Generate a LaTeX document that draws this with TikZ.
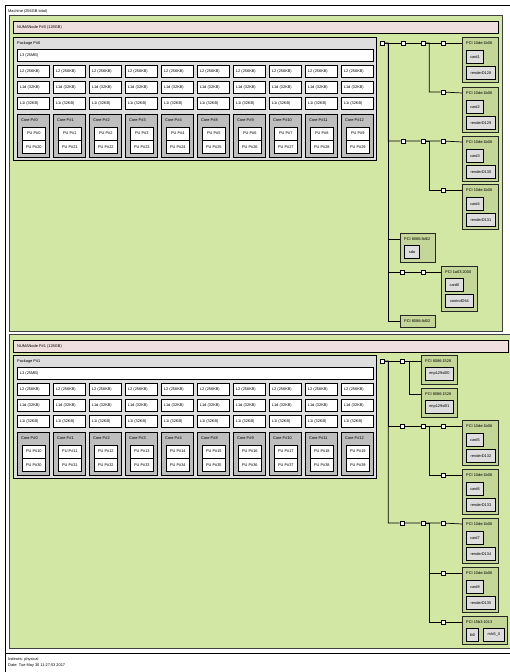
\documentclass[tikz,border=0pt]{standalone}
\usepackage{fontspec}
\setmainfont{Liberation Sans}
\usetikzlibrary{positioning}
\definecolor{grp}{RGB}{210,231,164}
\definecolor{numa}{RGB}{239,223,222}
\definecolor{pkg}{RGB}{222,222,222}
\definecolor{core}{RGB}{190,190,190}
\definecolor{pcid}{RGB}{196,214,152}
\definecolor{osd}{RGB}{222,222,222}

\begin{document}
\begin{tikzpicture}[x=1pt,y=-1pt,font=\fontsize{3.9}{4.5}\selectfont,
  box/.style={draw,line width=0.7pt,anchor=north west,inner sep=0pt},
  grpbox/.style={box,fill=grp,draw=black!75},
  numabar/.style={box,fill=numa,minimum height=12pt},
  pkgbox/.style={box,fill=pkg},
  corebox/.style={box,fill=core,minimum width=32pt,minimum height=43pt},
  cache/.style={box,fill=white,minimum height=12pt,inner xsep=2.5pt,text width=27pt,align=left},
  pu/.style={box,fill=white,minimum width=23pt,minimum height=12.5pt,align=center},
  pcibox/.style={box,fill=pcid,draw=black!85},
  osdev/.style={box,fill=osd,line width=0.9pt,minimum height=12.5pt,align=center},
  brg/.style={draw,fill=white,line width=0.6pt,minimum size=4pt,inner sep=0pt},
  lbl/.style={anchor=west,inner sep=0pt},
  link/.style={line width=0.7pt}]
  \useasboundingbox (0,0) rectangle (510,672);
  \clip (0,0) rectangle (510,672);

  % ---------- machine ----------
  \node[box,fill=white,minimum width=515pt,minimum height=648pt] (machine) at (5,5) {};
  \draw[line width=0.7pt] (machine.south west) -- (5,672);
  \node[lbl] (machine-t) at (8,11) {Machine (256GB total)};

  % ---------- numa nodes ----------
  \node[grpbox,minimum width=493pt,minimum height=316pt] (grp0) at (9,15) {};
  \node[numabar,minimum width=485pt] (numa0) at (13,21) {};
  \node[lbl] (numa0-t) at (17,27) {NUMANode P\#0 (128GB)};
  \node[grpbox,minimum width=505pt,minimum height=314pt] (grp1) at (9,334) {};
  \node[numabar,minimum width=495pt] (numa1) at (13,340) {};
  \node[lbl] (numa1-t) at (17,346) {NUMANode P\#1 (128GB)};

  % ---------- packages, caches, cores ----------
  \foreach \n/\dy/\pa/\pb in {0/0/0/20,1/318/10/30}{
    \node[pkgbox,minimum width=363pt,minimum height=123pt] (pkg\n) at (13,37+\dy) {};
    \node[lbl] (pkg\n-t) at (17,43+\dy) {Package P\#\n};
    \node[cache,text width=351pt] (l3-\n) at (17,49+\dy) {L3 (25MB)};
    \foreach \cn [count=\i from 0] in {0,1,2,3,4,8,9,10,11,12}{
      \pgfmathtruncatemacro\pua{\pa+\i}
      \pgfmathtruncatemacro\pub{\pb+\i}
      \node[cache] (l2-\n-\i) at (17+36*\i,65+\dy) {L2 (256KB)};
      \node[cache] (l1d-\n-\i) at (17+36*\i,81+\dy) {L1d (32KB)};
      \node[cache] (l1i-\n-\i) at (17+36*\i,97+\dy) {L1i (32KB)};
      \node[corebox] (core-\n-\i) at (17+36*\i,114+\dy) {};
      \node[lbl] (core-\n-\i-t) at (21+36*\i,120.5+\dy) {Core P\#\cn};
      \node[pu] (pua-\n-\i) at (22+36*\i,127+\dy) {PU P\#\pua};
      \node[pu,below=0pt of pua-\n-\i] (pub-\n-\i) {PU P\#\pub};
    }
  }

  % ---------- pci devices ----------
  \foreach \k/\y/\r in {1/37/128,2/87/129,3/136/130,4/184/131,5/420/132,6/469/133,7/518/134,8/567/135}{
    \node[pcibox,minimum width=36pt,minimum height=45pt] (gpu\k) at (462,\y) {};
    \node[lbl] (gpu\k-t) at (466,\y+6.5) {PCI 10de:1b06};
    \node[osdev,minimum width=17pt] (card\k) at (466,\y+13) {card\k};
    \node[osdev,minimum width=29pt] (rend\k) at (466,\y+29) {renderD\r};
  }
  \node[pcibox,minimum width=35pt,minimum height=29pt] (sata0) at (400,233) {};
  \node[lbl] (sata0-t) at (404,239) {PCI 8086:8d62};
  \node[osdev,minimum width=15pt] (sda) at (404,245) {sda};
  \node[pcibox,minimum width=36pt,minimum height=45pt] (vga0) at (441,266) {};
  \node[lbl] (vga0-t) at (445,272.5) {PCI 1a03:2000};
  \node[osdev,minimum width=18pt] (card0) at (445,278) {card0};
  \node[osdev,minimum width=28pt] (ctrl0) at (445,294) {controlD64};
  \node[pcibox,minimum width=35pt,minimum height=12pt] (lpc0) at (400,315) {};
  \node[lbl] (lpc0-t) at (404,321) {PCI 8086:8d02};
  \node[pcibox,minimum width=36pt,minimum height=29pt] (nic0) at (421,355) {};
  \node[lbl] (nic0-t) at (425,361) {PCI 8086:1528};
  \node[osdev,minimum width=28pt] (enp0) at (425,367) {enp129s0f0};
  \node[pcibox,minimum width=36pt,minimum height=29pt] (nic1) at (421,388) {};
  \node[lbl] (nic1-t) at (425,394) {PCI 8086:1528};
  \node[osdev,minimum width=28pt] (enp1) at (425,400) {enp129s0f1};
  \node[pcibox,minimum width=45pt,minimum height=28pt] (ib) at (462,616) {};
  \node[lbl] (ib-t) at (466,622) {PCI 15b3:1013};
  \node[osdev,minimum width=12pt] (ib0) at (466,628) {ib0};
  \node[osdev,minimum width=21pt] (mlx) at (483,628) {mlx5\_0};

  % ---------- bridges ----------
  \node[brg] (hb0) at (382,43) {};
  \node[brg] (b0a) at (403,43) {};
  \node[brg] (b0b) at (423,43) {};
  \node[brg] (b0c) at (443,43) {};
  \node[brg] (b0d) at (443,92) {};
  \node[brg] (b0e) at (403,141) {};
  \node[brg] (b0f) at (423,141) {};
  \node[brg] (b0g) at (443,141) {};
  \node[brg] (b0h) at (443,190) {};
  \node[brg] (b0i) at (402,272) {};
  \node[brg] (b0j) at (423,272) {};
  \node[brg] (hb1) at (382,361) {};
  \node[brg] (b1a) at (402,361) {};
  \node[brg] (b1b) at (402,426) {};
  \node[brg] (b1c) at (423,426) {};
  \node[brg] (b1d) at (443,426) {};
  \node[brg] (b1e) at (443,475) {};
  \node[brg] (b1f) at (402,523) {};
  \node[brg] (b1g) at (423,523) {};
  \node[brg] (b1h) at (443,523) {};
  \node[brg] (b1i) at (443,573) {};
  \node[brg] (b1j) at (443,622) {};

  % ---------- links ----------
  \draw[link] (hb0) -- (b0a) -- (b0b) -- (b0c) -- ([yshift=-6pt]gpu1.north west);
  \draw[link] (b0b.east) -- ++(4,0) |- (b0d) -- ([yshift=-6pt]gpu2.north west);
  \draw[link] (hb0.east) -- ++(4,0) |- (b0e) -- (b0f) -- (b0g) -- ([yshift=-6pt]gpu3.north west);
  \draw[link] (b0f.east) -- ++(4,0) |- (b0h) -- ([yshift=-6pt]gpu4.north west);
  \draw[link] (hb0.east) -- ++(4,0) |- ([yshift=-6pt]sata0.north west);
  \draw[link] (hb0.east) -- ++(4,0) |- (b0i) -- (b0j) -- ([yshift=-6pt]vga0.north west);
  \draw[link] (hb0.east) -- ++(4,0) |- ([yshift=-6pt]lpc0.north west);
  \draw[link] (hb1) -- (b1a) -- ([yshift=-6pt]nic0.north west);
  \draw[link] (b1a.east) -- ++(5,0) |- ([yshift=-6pt]nic1.north west);
  \draw[link] (hb1.east) -- ++(4,0) |- (b1b) -- (b1c) -- (b1d) -- ([yshift=-6pt]gpu5.north west);
  \draw[link] (b1c.east) -- ++(4,0) |- (b1e) -- ([yshift=-6pt]gpu6.north west);
  \draw[link] (hb1.east) -- ++(4,0) |- (b1f) -- (b1g) -- (b1h) -- ([yshift=-6pt]gpu7.north west);
  \draw[link] (b1g.east) -- ++(4,0) |- (b1i) -- ([yshift=-6pt]gpu8.north west);
  \draw[link] (b1g.east) -- ++(4,0) |- (b1j) -- ([yshift=-6pt]ib.north west);

  % ---------- legend ----------
  \node[lbl] (idx) at (8,659) {Indexes: physical};
  \node[lbl] (date) at (8,666) {Date: Tue May 30 11:27:53 2017};
\end{tikzpicture}
\end{document}
